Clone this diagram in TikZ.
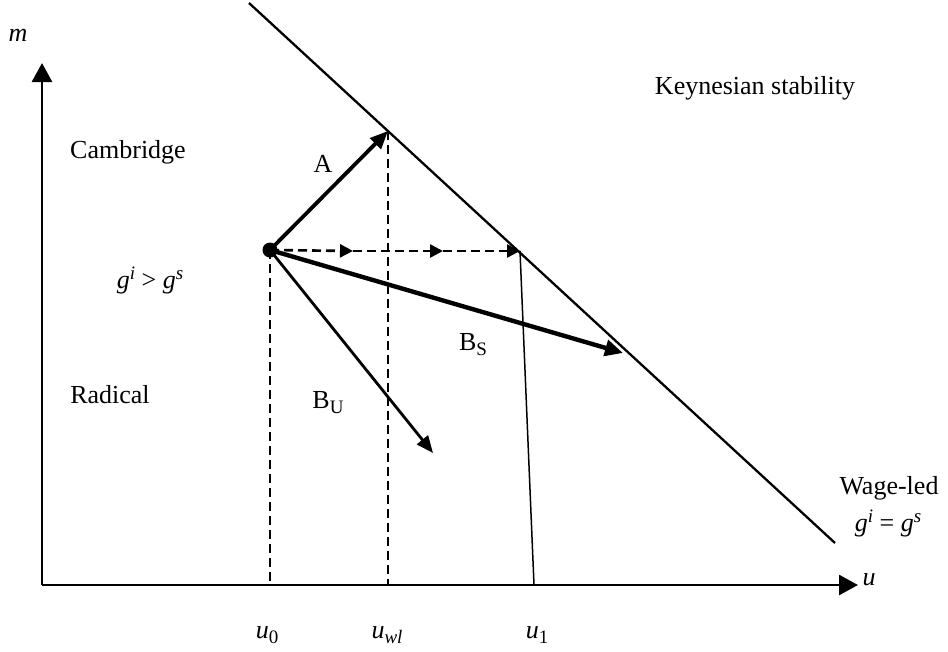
\documentclass[tikz,border=0pt]{standalone}
\usepackage{fontspec}
\setmainfont{Liberation Serif}
\usetikzlibrary{arrows.meta}
\newcommand\mysub[1]{\raisebox{-5pt}{\fontsize{19}{19}\selectfont #1}}
\newcommand\mysup[1]{\raisebox{9pt}{\fontsize{19}{19}\selectfont #1}}
\begin{document}
\begin{tikzpicture}[x=1pt,y=-1pt,
  font=\fontsize{26}{30}\selectfont,
  axis/.style={line width=2.8pt,-{Triangle[length=19pt,width=20pt]}},
  vecA/.style={line width=3.8pt,-{Triangle[length=18pt,width=15pt]}},
  vecS/.style={line width=4.4pt,-{Triangle[length=18pt,width=16pt]}},
  vecU/.style={line width=2.8pt,-{Triangle[length=17pt,width=14pt]}},
  dsh/.style={line width=2.6pt,dash pattern=on 9pt off 5pt},
  darr/.style={dsh,-{Triangle[length=13pt,width=13pt]}},
  lbl/.style={inner sep=0pt}]
\useasboundingbox (0,0) rectangle (948,651);
% axes
\coordinate (O) at (42,585);
\coordinate (ytip) at (42,63);
\coordinate (xtip) at (858,585);
\draw[axis] (O) -- (ytip);
\draw[axis] (O) -- (xtip);
% key points
\coordinate (P) at (270,250);
\coordinate (Atip) at (388,131);
\coordinate (H1) at (353,251);
\coordinate (H2) at (443,251);
\coordinate (H3) at (520,251);
\coordinate (Stip) at (623,353);
\coordinate (Utip) at (433,453);
\coordinate (L1) at (249,3);
\coordinate (L2) at (835,543);
\coordinate (X0) at (270,585);
\coordinate (Xwl) at (388,585);
\coordinate (X1) at (534,585);
% diagonal line
\draw[line width=2.3pt] (L1) -- (L2);
% dashed verticals
\draw[dsh] (P) -- (X0);
\draw[dsh] (Atip) -- (Xwl);
% thin line to u1
\draw[line width=1.5pt] (H3) -- (X1);
% dashed horizontal with arrows
\draw[darr] (P) -- (H1);
\draw[darr] (H1) -- (H2);
\draw[darr] (H2) -- (H3);
% vectors
\draw[vecA] (P) -- (Atip);
\draw[vecS] (P) -- (Stip);
\draw[vecU] (P) -- (Utip);
% dot
\fill (P) circle (7.5pt);
% labels
\node[lbl] (lm) at (18,35) {\textit{m}};
\node[lbl] (lu) at (869,580) {\textit{u}};
\node[lbl] (lk) at (755,88) {Keynesian stability};
\node[lbl] (lc) at (128,152) {Cambridge};
\node[lbl] (lg) at (150,280) {\textit{g}\mysup{\textit{i}} > \textit{g}\mysup{\textit{s}}};
\node[lbl] (lr) at (110,395) {Radical};
\node[lbl] (la) at (323,164) {A};
\node[lbl] (lbu) at (328,403) {B\mysub{U}};
\node[lbl] (lbs) at (473,345) {B\mysub{S}};
\node[lbl] (lw) at (889,488) {Wage-led};
\node[lbl] (le) at (888,523) {\textit{g}\mysup{\textit{i}} = \textit{g}\mysup{\textit{s}}};
\node[lbl] (u0) at (267,635) {\textit{u}\mysub{0}};
\node[lbl] (uwl) at (387,635) {\textit{u}\mysub{\textit{wl}}};
\node[lbl] (u1) at (537,635) {\textit{u}\mysub{1}};
\end{tikzpicture}
\end{document}
